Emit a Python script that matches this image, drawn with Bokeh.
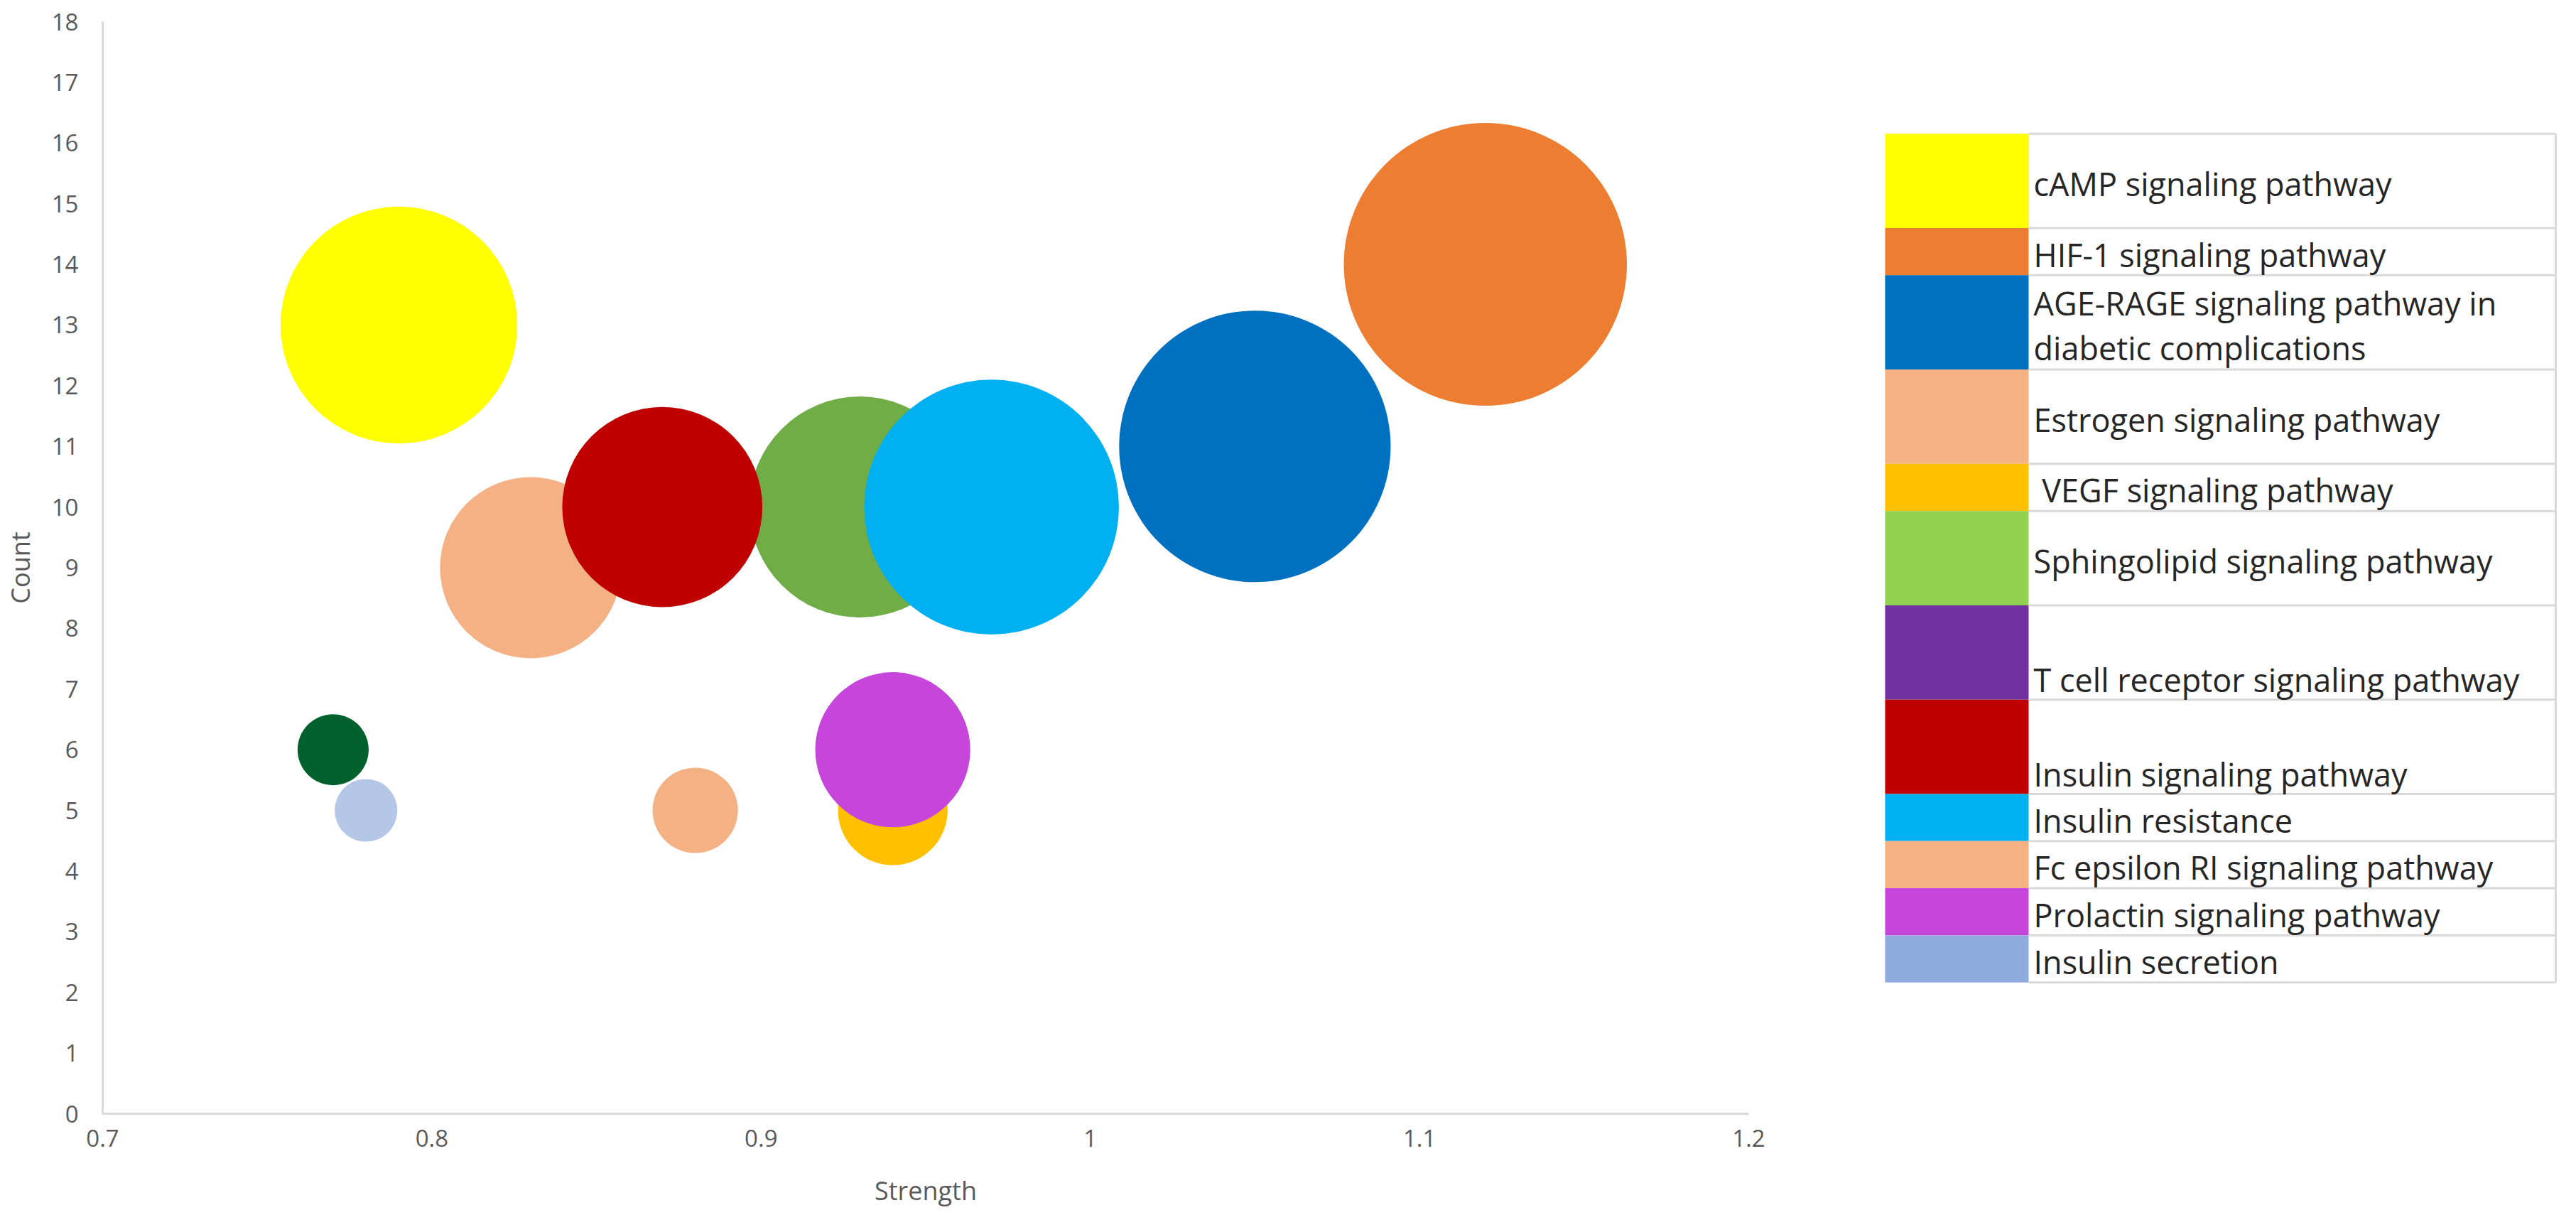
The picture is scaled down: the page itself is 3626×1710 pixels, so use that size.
import numpy as np
from bokeh.plotting import figure
from bokeh.layouts import row
from bokeh.models import Range1d, FixedTicker, CustomJSTickFormatter, ColumnDataSource
from bokeh.embed import file_html
from bokeh.resources import INLINE
from bokeh.core.properties import value

# ---------------- data ----------------
pathways = [
    "cAMP signaling pathway",
    "HIF-1 signaling pathway",
    "AGE-RAGE signaling pathway in\ndiabetic complications",
    "Estrogen signaling pathway",
    "\u00a0VEGF signaling pathway",
    "Sphingolipid signaling pathway",
    "T cell receptor signaling pathway",
    "Insulin signaling pathway",
    "Insulin resistance",
    "Fc epsilon RI signaling pathway",
    "Prolactin signaling pathway",
    "Insulin secretion",
]
strength = [0.79, 1.12, 1.05, 0.83, 0.94, 0.93, 0.77, 0.87, 0.97, 0.88, 0.94, 0.78]
count = [13, 14, 11, 9, 5, 10, 6, 10, 10, 5, 6, 5]
bubble_size = [7.0, 10.0, 9.2, 4.1, 1.5, 6.1, 0.63, 5.0, 8.1, 0.91, 3.0, 0.49]

x_ticks = [0.7, 0.8, 0.9, 1.0, 1.1, 1.2]
y_ticks = list(range(0, 19))

# ---------------- styles ----------------
bubble_colors = ["#FFFF00", "#ED7D31", "#0070C0", "#F4B183", "#FFC000", "#70AD47",
                 "#00612C", "#C00000", "#00B0F0", "#F4B183", "#C645DA", "#B4C7E7"]
legend_colors = ["#FFFF00", "#ED7D31", "#0070C0", "#F4B183", "#FFC000", "#92D050",
                 "#7030A0", "#C00000", "#00B0F0", "#F4B183", "#C645DA", "#8FAADC"]
row_span = [2, 1, 2, 2, 1, 2, 2, 2, 1, 1, 1, 1]
text_valign = ["middle", "middle", "middle", "middle", "middle", "middle",
               "bottom", "bottom", "middle", "middle", "middle", "middle"]

FONT = "Open Sans"
GRAY = "#595959"
AXIS_LINE = "#D9D9D9"
BUBBLE_SCALE = 63.0  # px radius per sqrt(size unit)

FIG_H = 1702
B_TOP, B_BOTTOM = 30, 132
PAGE_Y0 = 0

# ---------------- bubble chart ----------------
p = figure(width=2560, height=FIG_H,
           x_range=Range1d(0.7, 1.2), y_range=Range1d(0, 18),
           output_backend="svg", toolbar_location=None,
           min_border_left=133, min_border_right=99,
           min_border_top=B_TOP, min_border_bottom=B_BOTTOM)
p.outline_line_color = None
p.grid.visible = False
p.background_fill_color = "white"

src = ColumnDataSource(dict(
    x=strength, y=count,
    r=[BUBBLE_SCALE * np.sqrt(s) for s in bubble_size],
    c=bubble_colors,
))
p.circle(x="x", y="y", radius="r", radius_units="screen",
         fill_color="c", line_color=None, source=src)

p.xaxis.ticker = FixedTicker(ticks=x_ticks)
p.xaxis.formatter = CustomJSTickFormatter(code="return String(Math.round(tick*10)/10);")
p.yaxis.ticker = FixedTicker(ticks=y_ticks)

for ax in (p.xaxis[0], p.yaxis[0]):
    ax.axis_line_color = AXIS_LINE
    ax.axis_line_width = 3
    ax.major_tick_line_color = None
    ax.minor_tick_line_color = None
    ax.major_tick_out = 0
    ax.major_tick_in = 0
    ax.minor_tick_out = 0
    ax.major_label_text_font = FONT
    ax.major_label_text_font_size = "33px"
    ax.major_label_text_color = GRAY
    ax.axis_label_text_font = FONT
    ax.axis_label_text_font_size = "36px"
    ax.axis_label_text_font_style = "normal"
    ax.axis_label_text_color = GRAY

p.xaxis.axis_label = "Strength"
p.yaxis.axis_label = "Count"
p.xaxis.major_label_standoff = 22
p.xaxis.axis_label_standoff = 34
p.yaxis.major_label_standoff = 34
p.yaxis.axis_label_standoff = 17

# ---------------- legend table ----------------
# This figure's frame shares the bubble chart's top/bottom borders; its data
# ranges are expressed in page pixel coordinates.
PAGE_X0 = 2568
frame_top = PAGE_Y0 + B_TOP
frame_bottom = PAGE_Y0 + FIG_H - B_BOTTOM
lg = figure(width=1050, height=FIG_H,
            x_range=Range1d(PAGE_X0, PAGE_X0 + 1050),
            y_range=Range1d(frame_bottom, frame_top),
            output_backend="svg", toolbar_location=None,
            min_border_left=0, min_border_right=0,
            min_border_top=B_TOP, min_border_bottom=B_BOTTOM)
lg.outline_line_color = None
lg.grid.visible = False
lg.axis.visible = False

TABLE_LEFT, SPLIT, RIGHT, TOP, UNIT = 2661, 2863, 3605, 188, 66.5
edges = TOP + UNIT * np.concatenate([[0], np.cumsum(row_span)])
tops = edges[:-1]
bottoms = edges[1:]

lg.quad(left=TABLE_LEFT, right=SPLIT, top=tops, bottom=bottoms,
        fill_color=legend_colors, line_color=None)
lg.segment(x0=SPLIT, x1=RIGHT, y0=edges, y1=edges, line_color=AXIS_LINE, line_width=3)
lg.segment(x0=[RIGHT], x1=[RIGHT], y0=[edges[0]], y1=[edges[-1]], line_color=AXIS_LINE, line_width=3)

text_y = [(t + b) / 2 + 4 if va == "middle" else b - UNIT / 2 + 5
          for t, b, va in zip(tops, bottoms, text_valign)]
lg.text(x=SPLIT + 7, y=text_y, text=pathways,
        text_font=value(FONT), text_font_size="45px",
        text_align="left", text_baseline="middle",
        text_color="#262626", text_line_height=1.03)

layout = row(p, lg)
open("out.html", "w").write(file_html(layout, INLINE))
